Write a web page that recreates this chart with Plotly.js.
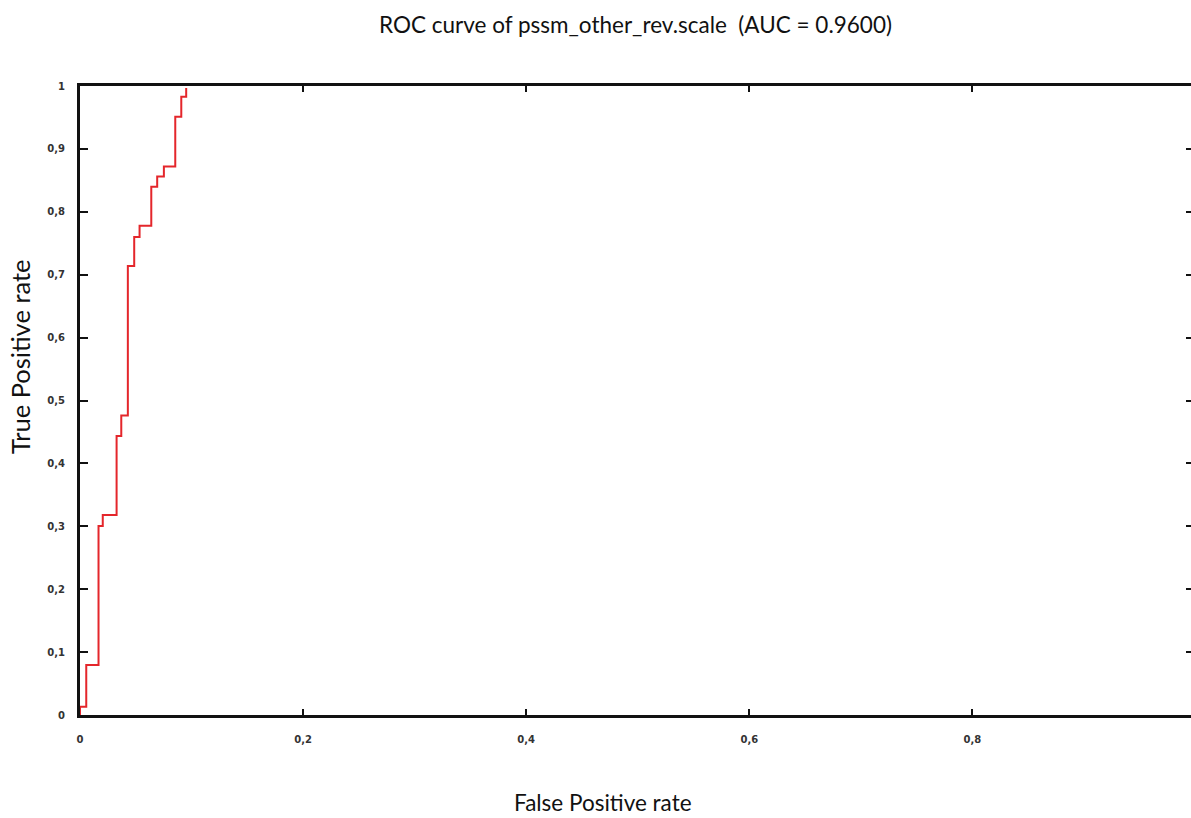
<!DOCTYPE html>
<html>
<head>
<meta charset="utf-8">
<script src="https://cdn.plot.ly/plotly-3.0.1.min.js"></script>
<style>html,body{margin:0;padding:0;background:#fff;}#chart{width:1191px;height:818px;}</style>
</head>
<body>
<div id="chart"></div>
<script>
// ROC curve step points (false positive rate, true positive rate)
const fpr = [0, 0, 0.0056, 0.0166, 0.0204, 0.0328, 0.037, 0.0429, 0.0486, 0.0534, 0.0639, 0.0692, 0.0752, 0.0854, 0.0908, 0.0952];
const tpr = [0, 0.0132, 0.0795, 0.3005, 0.318, 0.4436, 0.476, 0.714, 0.760, 0.778, 0.840, 0.856, 0.872, 0.951, 0.983, 0.997];
const xTickVals = [0, 0.2, 0.4, 0.6, 0.8];
const yTickVals = [0, 0.1, 0.2, 0.3, 0.4, 0.5, 0.6, 0.7, 0.8, 0.9, 1];

const tickFont = {family: 'DejaVu Sans', size: 10, color: '#333', weight: 'bold'};

const trace = {
  x: fpr, y: tpr, type: 'scatter', mode: 'lines',
  line: {shape: 'hv', color: '#e4262b', width: 2},
  hoverinfo: 'skip', showlegend: false
};
const ghost = {
  x: [0], y: [0], yaxis: 'y2', type: 'scatter', mode: 'markers',
  marker: {opacity: 0}, hoverinfo: 'skip', showlegend: false
};

const layout = {
  width: 1191, height: 818,
  margin: {l: 80, r: 0, t: 86, b: 103, pad: 0},
  paper_bgcolor: '#fff', plot_bgcolor: '#fff',
  title: {
    text: 'ROC curve of pssm_other_rev.scale  (AUC = 0.9600)',
    font: {family: 'Lato', size: 22.5, color: '#111'},
    x: 0.5, xref: 'paper', xanchor: 'center', y: 0.969, yanchor: 'middle'
  },
  xaxis: {
    range: [0, 0.996], fixedrange: true,
    tickvals: xTickVals,
    ticktext: xTickVals.map(v => String(v).replace('.', ',')),
    showgrid: false, zeroline: false,
    showline: true, linecolor: '#111', linewidth: 3, mirror: 'ticks',
    ticks: 'inside', ticklen: 6, tickwidth: 2, tickcolor: '#111',
    tickfont: tickFont, ticklabelstandoff: 13
  },
  yaxis: {
    range: [0, 1], fixedrange: true,
    tickvals: yTickVals,
    ticktext: yTickVals.map(v => String(v).replace('.', ',')),
    showgrid: false, zeroline: false,
    showline: true, linecolor: '#111', linewidth: 3, mirror: false,
    ticks: 'inside', ticklen: 8, tickwidth: 2, tickcolor: '#111',
    tickfont: tickFont, ticklabelstandoff: 10
  },
  yaxis2: {
    overlaying: 'y', side: 'right', range: [0, 1], fixedrange: true,
    tickvals: yTickVals, showticklabels: false,
    showgrid: false, zeroline: false, showline: false,
    ticks: 'inside', ticklen: 5, tickwidth: 2, tickcolor: '#111'
  },
  annotations: [
    {text: 'False Positive rate', xref: 'paper', yref: 'paper', x: 0.4707, y: -0.1395,
     xanchor: 'center', yanchor: 'middle', showarrow: false,
     font: {family: 'Lato', size: 22.5, color: '#111'}},
    {text: 'True Positive rate', xref: 'paper', yref: 'paper', x: -0.054, y: 0.569,
     xanchor: 'center', yanchor: 'middle', showarrow: false, textangle: -90,
     font: {family: 'Lato', size: 25.5, color: '#111'}}
  ]
};

Plotly.newPlot('chart', [trace, ghost], layout, {displayModeBar: false, staticPlot: true});
</script>
</body>
</html>
